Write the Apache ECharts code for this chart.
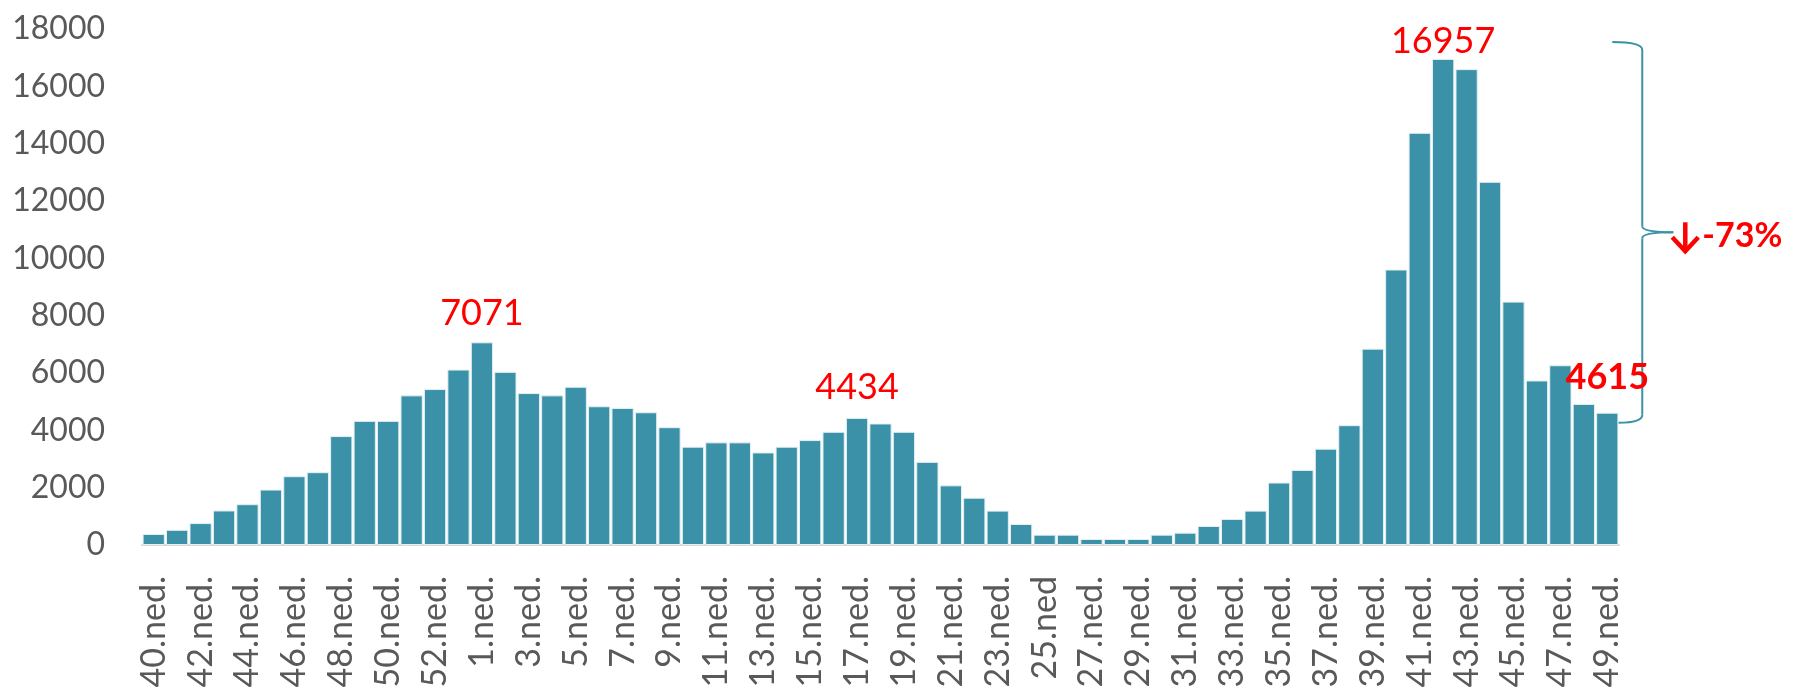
<!DOCTYPE html>
<html>
<head>
<meta charset="utf-8">
<script src="https://cdn.jsdelivr.net/npm/echarts@6/dist/echarts.min.js"></script>
<style>
  html, body { margin: 0; padding: 0; background: #fff; }
  #chart { width: 1793px; height: 694px; }
</style>
</head>
<body>
<div id="chart"></div>
<script>
const weeks = [
  '40.ned.', '41.ned.', '42.ned.', '43.ned.', '44.ned.', '45.ned.', '46.ned.', '47.ned.',
  '48.ned.', '49.ned.', '50.ned.', '51.ned.', '52.ned.', '53.ned.',
  '1.ned.', '2.ned.', '3.ned.', '4.ned.', '5.ned.', '6.ned.', '7.ned.', '8.ned.',
  '9.ned.', '10.ned.', '11.ned.', '12.ned.', '13.ned.', '14.ned.', '15.ned.', '16.ned.',
  '17.ned.', '18.ned.', '19.ned.', '20.ned.', '21.ned.', '22.ned.', '23.ned.', '24.ned.',
  '25.ned', '26.ned.', '27.ned.', '28.ned.', '29.ned.', '30.ned.', '31.ned.', '32.ned.',
  '33.ned.', '34.ned.', '35.ned.', '36.ned.', '37.ned.', '38.ned.', '39.ned.', '40.ned.',
  '41.ned.', '42.ned.', '43.ned.', '44.ned.', '45.ned.', '46.ned.', '47.ned.', '48.ned.',
  '49.ned.'
]

const cases = [
  385, 530, 764, 1205, 1424, 1934, 2400, 2540,
  3800, 4330, 4330, 5220, 5440, 6120,
  7071, 6040, 5300, 5220, 5520, 4840, 4780, 4630,
  4110, 3430, 3580, 3580, 3230, 3430, 3660, 3950,
  4434, 4240, 3950, 2900, 2080, 1650, 1200, 733,
  360, 360, 210, 210, 210, 360, 430, 663,
  910, 1200, 2180, 2620, 3360, 4180, 6850, 9610,
  14380, 16957, 16600, 12670, 8490, 5740, 6270, 4920,
  4615
]

// which bars carry a value label, and how far the label sits above the bar
const labelled = [14, 30, 55, 62]
const labelGap = { 14: 11, 30: 13, 55: 0, 62: 17 }
const boldLabels = [62]

const yTicks = { min: 0, max: 18000, step: 2000 }
const dropText = '-73%'

const BAR = '#3A91A8'
const RED = '#FF0000'
const GREY = '#595959'

const chart = echarts.init(document.getElementById('chart'))

const barData = cases.map((v, i) => {
  if (!labelled.includes(i)) return v
  return {
    value: v,
    label: {
      show: true,
      position: 'top',
      distance: labelGap[i],
      color: RED,
      fontFamily: 'Lato',
      fontSize: 36,
      fontWeight: boldLabels.includes(i) ? 'bold' : 'normal'
    }
  }
})

chart.setOption({
  animation: false,
  backgroundColor: '#fff',
  grid: { left: 142, right: 174, top: 29, bottom: 149 },
  xAxis: {
    type: 'category',
    data: weeks,
    axisLine: { lineStyle: { color: '#D9D9D9', width: 2 } },
    axisTick: { show: false },
    axisLabel: {
      interval: 1,
      rotate: 90,
      margin: 31,
      color: GREY,
      fontFamily: 'Lato',
      fontSize: 34
    }
  },
  yAxis: {
    type: 'value',
    min: yTicks.min,
    max: yTicks.max,
    interval: yTicks.step,
    axisLine: { show: false },
    axisTick: { show: false },
    splitLine: { show: false },
    axisLabel: {
      margin: 37,
      color: GREY,
      fontFamily: 'Lato',
      fontSize: 32,
      formatter: v => String(v)
    }
  },
  series: [{
    type: 'bar',
    data: barData,
    barCategoryGap: '5%',
    itemStyle: { color: BAR, borderColor: '#E4F0F3', borderWidth: 1 }
  }]
})

// curly brace from the peak down to the latest week
const peakIdx = cases.indexOf(Math.max(...cases))
const lastIdx = cases.length - 1
const yTop = chart.convertToPixel({ yAxisIndex: 0 }, cases[peakIdx]) - 17
const yBot = chart.convertToPixel({ yAxisIndex: 0 }, cases[lastIdx]) + 10
const xEnd = chart.convertToPixel({ xAxisIndex: 0 }, weeks.length - 1)
const xs = xEnd + 35
const xTip = xs + 31
const yMid = (yTop + yBot) / 2
const brace = { stroke: BAR, lineWidth: 2, fill: null }
const arrow = { stroke: RED, lineWidth: 4.5, fill: null, lineCap: 'butt', lineJoin: 'miter' }
const ax = xTip + 12

chart.setOption({
  graphic: [
    { type: 'bezierCurve', shape: { x1: xs - 30, y1: yTop, x2: xs, y2: yTop + 8, cpx1: xs, cpy1: yTop }, style: brace },
    { type: 'line', shape: { x1: xs, y1: yTop + 8, x2: xs, y2: yMid - 6 }, style: brace },
    { type: 'bezierCurve', shape: { x1: xs, y1: yMid - 6, x2: xTip, y2: yMid, cpx1: xs, cpy1: yMid }, style: brace },
    { type: 'bezierCurve', shape: { x1: xTip, y1: yMid, x2: xs, y2: yMid + 6, cpx1: xs, cpy1: yMid }, style: brace },
    { type: 'line', shape: { x1: xs, y1: yMid + 6, x2: xs, y2: yBot - 8 }, style: brace },
    { type: 'bezierCurve', shape: { x1: xs, y1: yBot - 8, x2: xs - 24, y2: yBot, cpx1: xs, cpy1: yBot }, style: brace },
    // down arrow
    { type: 'line', shape: { x1: ax, y1: yMid - 10, x2: ax, y2: yMid + 18 }, style: arrow },
    { type: 'polyline', shape: { points: [[ax - 13, yMid + 5], [ax, yMid + 19], [ax + 13, yMid + 5]] }, style: arrow },
    {
      type: 'text',
      x: ax + 17,
      y: yMid + 4,
      style: {
        text: dropText,
        verticalAlign: 'middle',
        fontFamily: 'Lato',
        fontSize: 34,
        fontWeight: 'bold',
        fill: RED
      }
    }
  ]
})
</script>
</body>
</html>
